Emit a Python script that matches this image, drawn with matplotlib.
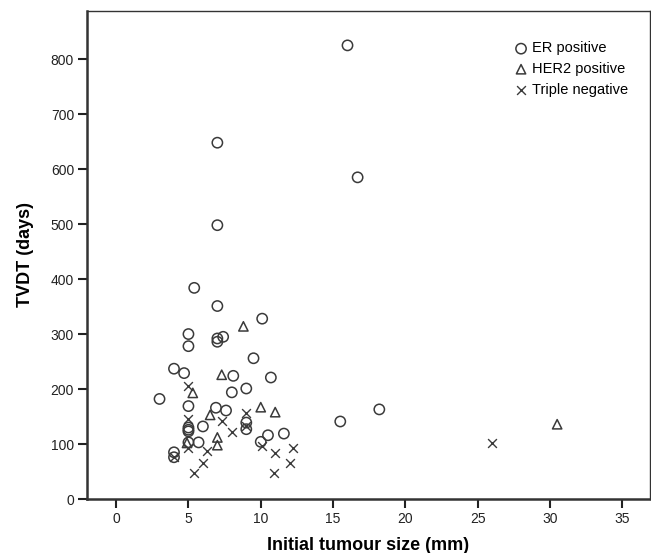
import matplotlib.pyplot as plt

plt.rcParams['font.family'] = ['Liberation Sans', 'DejaVu Sans']

# ER positive (circles)
er_x = [16.0, 7.0, 16.7, 7.0, 5.4, 7.0, 10.1, 5.0, 7.0, 7.0, 7.4, 5.0, 9.5, 4.0, 4.7,
        8.1, 10.7, 9.0, 8.0, 3.0, 5.0, 6.9, 7.6, 9.0, 9.0, 6.0, 5.0, 5.0, 5.0, 10.5,
        11.6, 10.0, 5.7, 5.0, 4.0, 4.0, 15.5, 18.2]
er_y = [825, 648, 585, 498, 384, 351, 328, 300, 286, 292, 295, 278, 256, 237, 229,
        224, 221, 201, 194, 182, 169, 166, 161, 139, 127, 132, 130, 126, 123, 116,
        119, 104, 103, 103, 85, 76, 141, 163]

# HER2 positive (triangles)
her2_x = [8.8, 7.3, 5.3, 10.0, 11.0, 6.5, 7.0, 7.0, 4.9, 30.5]
her2_y = [314, 226, 193, 167, 158, 153, 112, 98, 102, 136]

# Triple negative (crosses)
tn_x = [5.0, 5.0, 9.0, 7.3, 8.0, 9.0, 5.0, 6.3, 6.0, 5.4, 10.1, 11.0, 12.2, 12.0,
        10.9, 4.0, 26.0]
tn_y = [206, 145, 157, 142, 121, 132, 92, 87, 65, 48, 96, 83, 93, 65, 48, 77, 101]

fig = plt.figure(figsize=(6.51, 5.53), dpi=100)
ax = fig.add_axes([0.134, 0.0976, 0.864, 0.883])

c = '#3a3a3a'
ax.scatter(er_x, er_y, s=55, marker='o', facecolors='none', edgecolors=c,
           linewidths=1.1, label='ER positive')
ax.scatter(her2_x, her2_y, s=45, marker='^', facecolors='none', edgecolors=c,
           linewidths=1.1, label='HER2 positive')
ax.scatter(tn_x, tn_y, s=40, marker='x', color=c, linewidths=1.0,
           label='Triple negative')

ax.set_xlim(-2, 36.9)
ax.set_ylim(0, 888)
ax.set_xticks(range(0, 40, 5))
ax.set_yticks(range(0, 900, 100))
ax.tick_params(direction='out', length=6.5, width=1.5, labelsize=10,
               colors='#222222', pad=3)
for side in ['left', 'bottom']:
    ax.spines[side].set_linewidth(1.8)
for side in ['top', 'right']:
    ax.spines[side].set_linewidth(1.0)
for sp in ax.spines.values():
    sp.set_color('#333333')

ax.set_xlabel('Initial tumour size (mm)', fontsize=13, fontweight='bold',
              labelpad=8)
ax.set_ylabel('TVDT (days)', fontsize=13, fontweight='bold', labelpad=12)

ax.legend(loc='upper left', bbox_to_anchor=(0.757, 0.937), frameon=False,
          fontsize=10.5, handletextpad=0.2, labelspacing=0.45, borderaxespad=0,
          borderpad=0, handlelength=1.1)

plt.savefig('out.png', dpi=100)
